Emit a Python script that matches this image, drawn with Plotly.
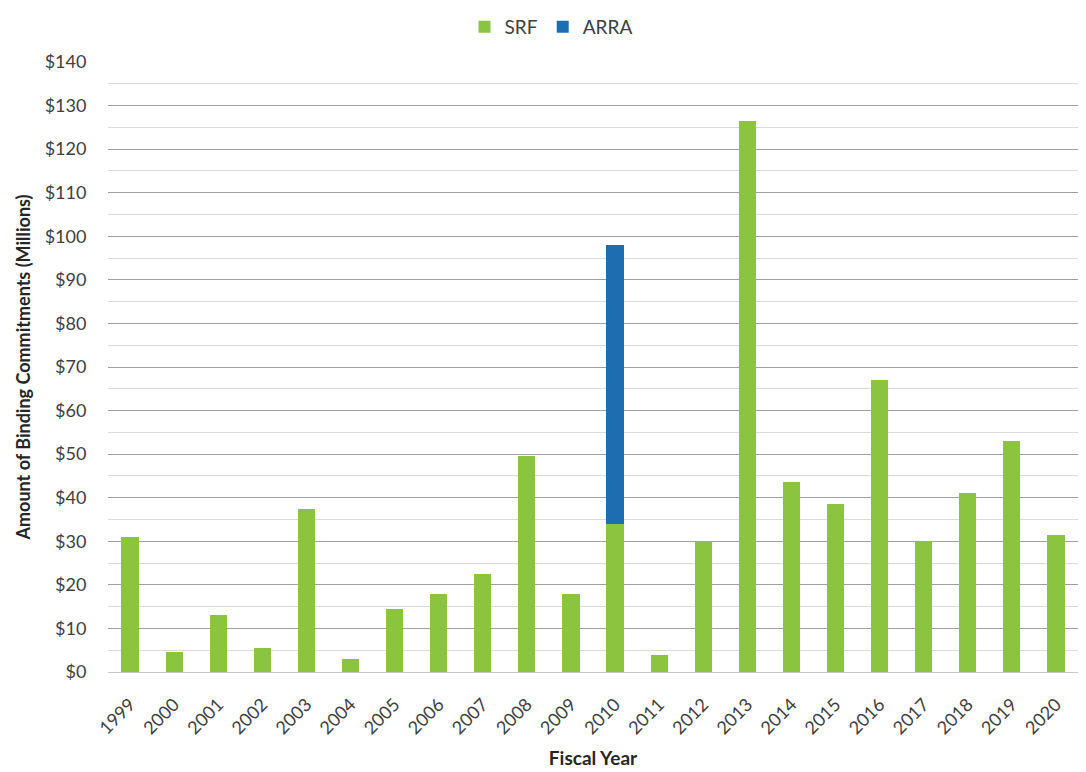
import plotly.graph_objects as go

years = [str(y) for y in range(1999, 2021)]
srf = [31, 4.5, 13, 5.5, 37.5, 3, 14.5, 18, 22.5, 49.5, 18, 34, 4, 30, 126.5, 43.5, 38.5, 67, 30, 41, 53, 31.5]
arra = [0, 0, 0, 0, 0, 0, 0, 0, 0, 0, 0, 64, 0, 0, 0, 0, 0, 0, 0, 0, 0, 0]
tick_vals = list(range(0, 141, 10))
tick_text = ["$" + str(v) for v in tick_vals]

FONT = "Lato, Open Sans, sans-serif"

fig = go.Figure()
fig.add_trace(go.Bar(x=years, y=srf, name="SRF", marker=dict(color="#8BC43F", line=dict(width=0))))
fig.add_trace(go.Bar(x=years, y=arra, name="ARRA", marker=dict(color="#1F6DB1", line=dict(width=0))))

fig.update_layout(
    barmode="stack",
    bargap=0.61,
    width=1086, height=772,
    margin=dict(l=100, r=16, t=54, b=108),
    paper_bgcolor="white", plot_bgcolor="white",
    font=dict(family=FONT, size=18, color="#404040"),
    legend=dict(orientation="h", x=0.5, xref="container", xanchor="center",
                y=1.0, yanchor="top", yref="container",
                font=dict(size=19, color="#404040"),
                itemwidth=30, traceorder="normal"),
    showlegend=True,
)
fig.update_yaxes(
    automargin=False,
    range=[0, 140], tickvals=tick_vals, ticktext=tick_text,
    showgrid=True, gridcolor="#a0a0a0", gridwidth=1,
    minor=dict(dtick=5, showgrid=True, gridcolor="#dadada", gridwidth=1),
    zeroline=True, zerolinecolor="#c8c8c8", zerolinewidth=1,
    title=dict(text="<b>Amount of Binding Commitments (Millions)</b>", font=dict(size=18, color="#262626"), standoff=9),
    ticks="outside", ticklen=17, tickcolor="rgba(0,0,0,0)",
    tickfont=dict(size=18, color="#404040"),
)
fig.update_xaxes(
    automargin=False,
    type="category", tickangle=-45, showline=False,
    ticks="outside", ticklen=14, tickcolor="rgba(0,0,0,0)",
    tickfont=dict(size=18, color="#404040"),
    title=dict(text="<b>Fiscal Year</b>", font=dict(size=19, color="#262626"), standoff=14),
)

fig.write_html("out.html")
